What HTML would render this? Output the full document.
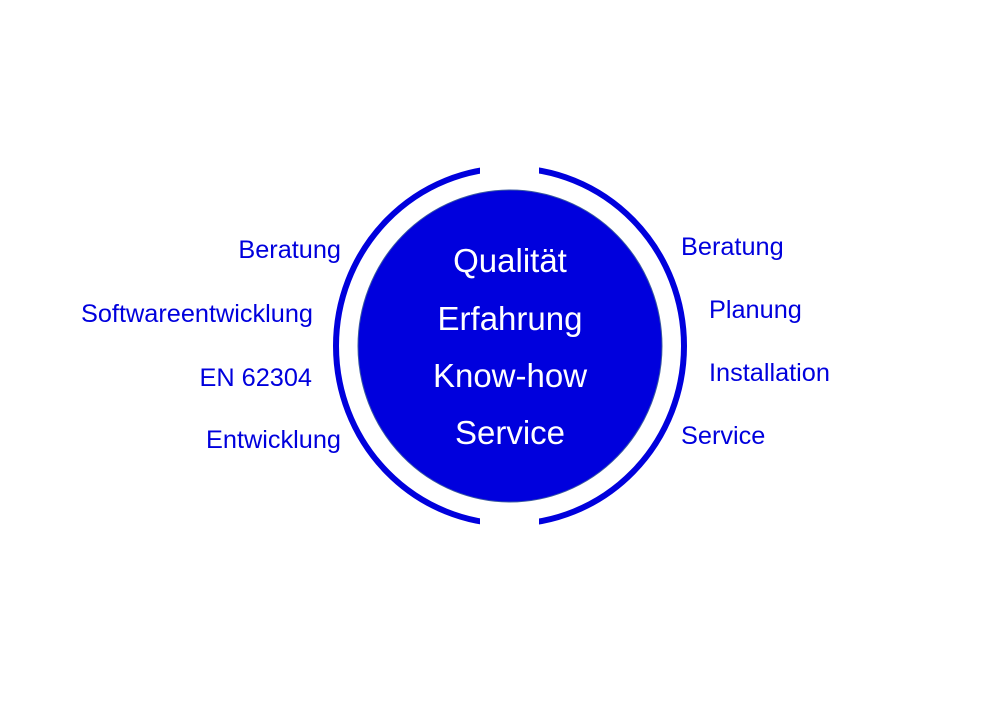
<!DOCTYPE html>
<html><head><meta charset="utf-8"><style>
body{margin:0;background:#fff;}
</style></head><body>
<svg width="1000" height="707" xmlns="http://www.w3.org/2000/svg" font-family="Liberation Sans, Arial, sans-serif">
<rect width="1000" height="707" fill="#fff"/>
<ellipse cx="510" cy="346" rx="174" ry="178" fill="none" stroke="#0000dd" stroke-width="6"/>
<rect x="480" y="150" width="59" height="400" fill="#fff"/>
<ellipse cx="510" cy="346" rx="152" ry="156" fill="#0000dd" stroke="#3a5aa0" stroke-width="1"/>
<g fill="#fff" font-size="33" text-anchor="middle">
<text x="510" y="272">Qualität</text>
<text x="510" y="330">Erfahrung</text>
<text x="510" y="387">Know-how</text>
<text x="510" y="444">Service</text>
</g>
<g fill="#0000dd" font-size="25.3" text-anchor="end">
<text x="341" y="258">Beratung</text>
<text x="313" y="322">Softwareentwicklung</text>
<text x="312" y="386">EN 62304</text>
<text x="341" y="448">Entwicklung</text>
</g>
<g fill="#0000dd" font-size="25.3">
<text x="681" y="255">Beratung</text>
<text x="709" y="318">Planung</text>
<text x="709" y="381">Installation</text>
<text x="681" y="444">Service</text>
</g>
</svg>
</body></html>
